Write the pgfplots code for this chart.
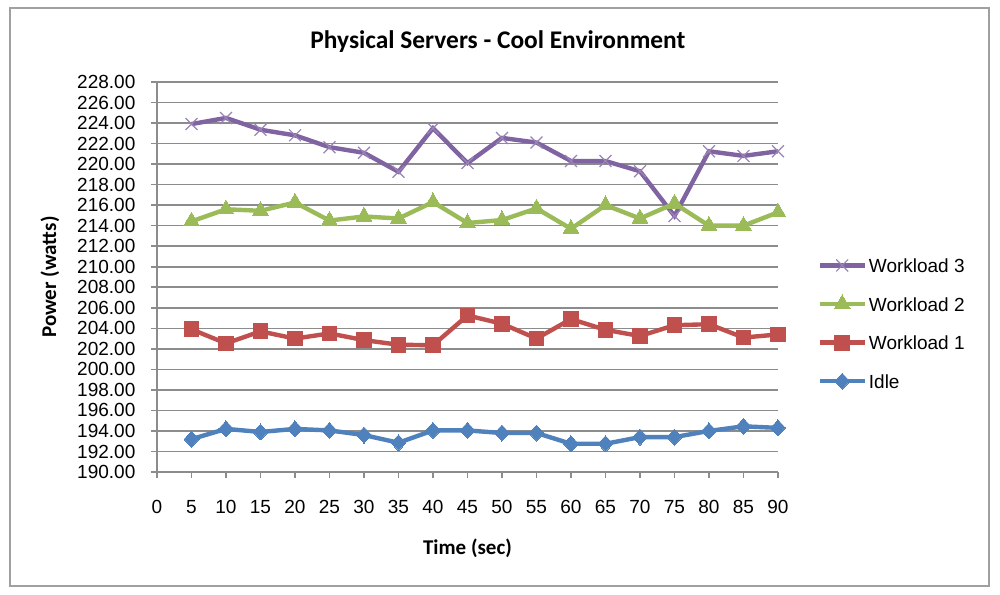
\documentclass[border=0pt]{standalone}
\usepackage{pgfplots}
\pgfplotsset{compat=1.18}
\usepackage{fontspec}
\setmainfont{Liberation Sans}
\newfontfamily\calfont{Carlito}
\definecolor{cpurple}{HTML}{8064A2}
\definecolor{cgreen}{HTML}{9BBB59}
\definecolor{cred}{HTML}{C0504D}
\definecolor{cblue}{HTML}{4F81BD}
\definecolor{cgrid}{HTML}{8C8C8C}
\definecolor{cframe}{HTML}{A0A0A0}
\begin{document}
\begin{tikzpicture}
\useasboundingbox (0,0) rectangle (500pt,297pt);
\draw[cframe, line width=0.8pt] (5pt,4pt) rectangle (494.5pt,293pt);
\begin{axis}[
  at={(78.5pt,61pt)}, anchor=south west,
  scale only axis, width=310.5pt, height=195pt,
  xmin=0, xmax=90, ymin=190, ymax=228,
  xtick={0,5,...,90}, ytick={190,192,...,228},
  axis lines*=left,
  axis line style={cgrid, line width=0.8pt, -},
  tick style={cgrid, line width=0.8pt},
  tick align=outside, major tick length=3pt,
  ymajorgrids, grid style={cgrid, line width=0.8pt},
  font=\fontsize{9.5}{11}\selectfont,
  /pgf/number format/assume math mode=true,
  yticklabel style={/pgf/number format/fixed, /pgf/number format/fixed zerofill, /pgf/number format/precision=2, xshift=-4.3pt},
  xticklabel style={yshift=-7.5pt},
  scaled y ticks=false,
  title={Physical Servers - Cool Environment},
  every axis title/.style={at={(axis description cs:0.549,1.1026)}, anchor=center, font=\calfont\bfseries\fontsize{12.7}{15}\selectfont},
  xlabel={Time (sec)},
  every axis x label/.style={at={(axis description cs:0.5,-0.195)}, anchor=center, font=\calfont\bfseries\fontsize{10.5}{12}\selectfont},
  ylabel={Power (watts)},
  every axis y label/.style={at={(axis description cs:-0.1725,0.5)}, rotate=90, anchor=center, font=\calfont\bfseries\fontsize{10.5}{12}\selectfont},
  legend cell align=left,
  legend style={at={(axis description cs:1.063,0.5564)}, anchor=north west, draw=none, fill=none, inner sep=0pt, row sep=9.3pt, column sep=1pt,
    nodes={inner sep=0pt, minimum height=10pt, text height=7pt, text depth=0pt}, font=\fontsize{9.5}{11}\selectfont},
  legend image code/.code={
    \draw[mark repeat=2, mark phase=2, #1] plot coordinates {(0pt,0pt) (11.25pt,0pt) (22.5pt,0pt)};
  },
  every axis plot/.append style={line width=2.2pt},
]
\addplot[cpurple, mark=x, mark size=4.2pt, mark options={line width=0.6pt, cpurple!80}] coordinates {
(5,223.9)(10,224.5)(15,223.35)(20,222.8)(25,221.65)(30,221.1)(35,219.25)(40,223.5)(45,220.1)(50,222.55)(55,222.1)(60,220.3)(65,220.3)(70,219.3)(75,214.95)(80,221.25)(85,220.8)(90,221.25)};
\addlegendentry{Workload 3}
\addplot[cgreen, mark=triangle*, mark size=4.6pt, mark options={line width=0pt, fill=cgreen}] coordinates {
(5,214.42)(10,215.6)(15,215.45)(20,216.26)(25,214.5)(30,214.9)(35,214.7)(40,216.3)(45,214.26)(50,214.55)(55,215.68)(60,213.7)(65,216.0)(70,214.7)(75,216.16)(80,214.0)(85,214.0)(90,215.3)};
\addlegendentry{Workload 2}
\addplot[cred, mark=square*, mark size=3.7pt, mark options={line width=0pt, fill=cred}] coordinates {
(5,203.9)(10,202.53)(15,203.7)(20,203.0)(25,203.5)(30,202.85)(35,202.4)(40,202.35)(45,205.25)(50,204.45)(55,203.0)(60,204.9)(65,203.85)(70,203.25)(75,204.3)(80,204.4)(85,203.1)(90,203.4)};
\addlegendentry{Workload 1}
\addplot[cblue, mark=diamond*, mark size=4pt, mark options={line width=0pt, fill=cblue, xscale=1.25}] coordinates {
(5,193.2)(10,194.2)(15,193.9)(20,194.2)(25,194.05)(30,193.6)(35,192.85)(40,194.05)(45,194.05)(50,193.8)(55,193.8)(60,192.75)(65,192.75)(70,193.4)(75,193.4)(80,194.0)(85,194.45)(90,194.3)};
\addlegendentry{Idle}
\end{axis}
\end{tikzpicture}
\end{document}
